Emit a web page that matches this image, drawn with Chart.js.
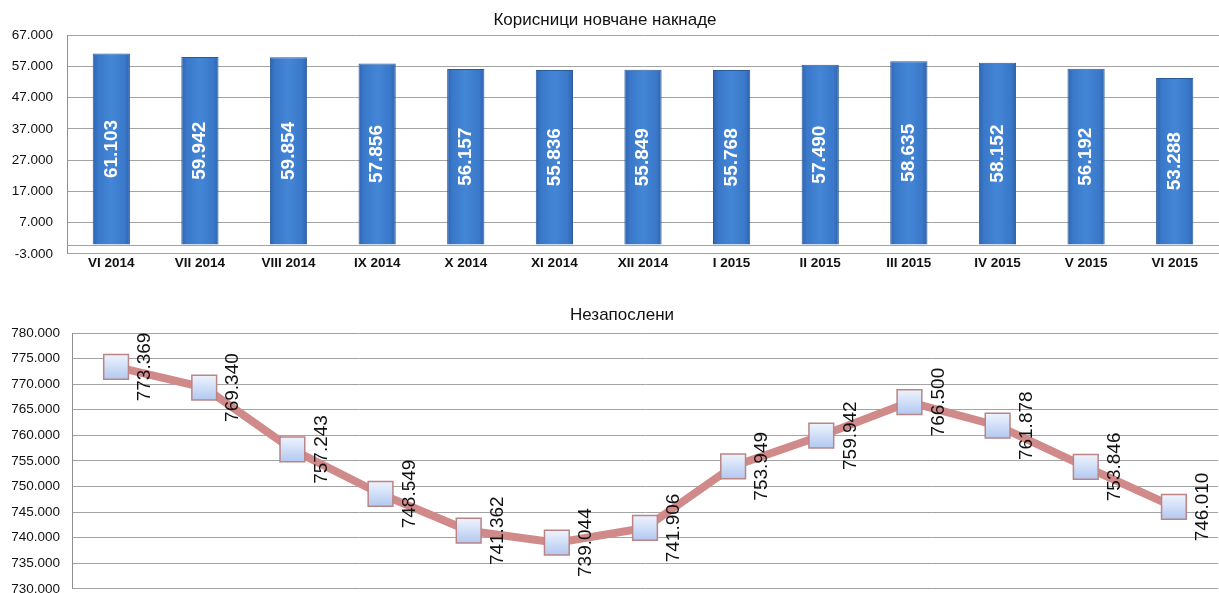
<!DOCTYPE html>
<html>
<head>
<meta charset="utf-8">
<title>Корисници новчане накнаде / Незапослени</title>
<script src="https://cdn.jsdelivr.net/npm/chart.js@4.4.1/dist/chart.umd.min.js"></script>
<style>
    body { margin: 0; background: #fff; width: 1219px; height: 593px; overflow: hidden; position: relative; }
    canvas { position: absolute; left: 0; }
    #benefits-chart { top: 0; }
    #unemployed-chart { top: 290px; }
</style>
</head>
<body>
<canvas id="benefits-chart" width="1219" height="276"></canvas>
<canvas id="unemployed-chart" width="1219" height="319"></canvas>
<script>
// Months, June 2014 - June 2015
const months = ['VI 2014', 'VII 2014', 'VIII 2014', 'IX 2014', 'X 2014', 'XI 2014', 'XII 2014',
    'I 2015', 'II 2015', 'III 2015', 'IV 2015', 'V 2015', 'VI 2015'];

// Корисници новчане накнаде
const benefitUsers = [61103, 59942, 59854, 57856, 56157, 55836, 55849, 55768, 57490, 58635, 58152, 56192, 53288];

// Незапослени
const unemployed = [773369, 769340, 757243, 748549, 741362, 739044, 741906, 753949, 759942, 766500, 761878, 753846, 746010];

const benefitsTicks = { min: -3000, max: 67000, step: 10000 };
const unemployedTicks = { min: 730000, max: 780000, step: 5000 };

const FONT = '"Liberation Sans", Arial, sans-serif';
const GRID = '#a3a3a3';

// 61103 -> "61.103"
function fmt(v) {
    return String(Math.round(v)).replace(/\B(?=(\d{3})+(?!\d))/g, '.');
}

// Title drawn at a fixed spot, like the original sheet
const panelTitle = {
    id: 'panelTitle',
    afterDraw(chart, args, opts) {
        const ctx = chart.ctx;
        ctx.save();
        ctx.font = '17px ' + FONT;
        ctx.fillStyle = '#111';
        ctx.textAlign = 'center';
        ctx.textBaseline = 'middle';
        ctx.fillText(opts.text, opts.x, opts.y);
        ctx.restore();
    }
};

// Category axis crosses at 0
const zeroLine = {
    id: 'zeroLine',
    beforeDatasetsDraw(chart) {
        const { ctx, chartArea } = chart;
        const y = Math.round(chart.scales.y.getPixelForValue(0)) + 0.5;
        ctx.save();
        ctx.strokeStyle = GRID;
        ctx.lineWidth = 1;
        ctx.beginPath();
        ctx.moveTo(chartArea.left, y);
        ctx.lineTo(chartArea.right, y);
        ctx.stroke();
        ctx.restore();
    }
};

// Rotated value labels
const valueLabels = {
    id: 'valueLabels',
    afterDatasetsDraw(chart, args, opts) {
        const ctx = chart.ctx;
        const meta = chart.getDatasetMeta(0);
        const values = chart.data.datasets[0].data;
        ctx.save();
        ctx.font = opts.font;
        ctx.fillStyle = opts.color;
        ctx.textAlign = 'center';
        ctx.textBaseline = 'middle';
        meta.data.forEach((el, i) => {
            let x, y;
            if (opts.inside) {
                x = el.x;
                y = (el.y + el.base) / 2;
            } else {
                x = el.x + opts.dx;
                y = el.y;
            }
            ctx.save();
            ctx.translate(x, y);
            ctx.rotate(-Math.PI / 2);
            ctx.fillText(fmt(values[i]), 0, 0);
            ctx.restore();
        });
        ctx.restore();
    }
};

function barFill(context) {
    const chart = context.chart;
    if (context.dataIndex === undefined || !chart.chartArea) return '#3a7ccf';
    const x = chart.scales.x.getPixelForValue(context.dataIndex);
    const g = chart.ctx.createLinearGradient(x - 19, 0, x + 19, 0);
    g.addColorStop(0, '#2d62ac');
    g.addColorStop(0.15, '#3a78c9');
    g.addColorStop(0.5, '#4486d6');
    g.addColorStop(0.85, '#3a78c9');
    g.addColorStop(1, '#2d62ac');
    return g;
}

function markerFill(context) {
    const chart = context.chart;
    if (context.dataIndex === undefined || !chart.chartArea) return '#c9d9f4';
    const y = chart.scales.y.getPixelForValue(unemployed[context.dataIndex]);
    const g = chart.ctx.createLinearGradient(0, y - 12, 0, y + 12);
    g.addColorStop(0, '#edf3fd');
    g.addColorStop(1, '#b3c9f0');
    return g;
}

Chart.defaults.font.family = FONT;
Chart.defaults.color = '#111';

new Chart(document.getElementById('benefits-chart'), {
    type: 'bar',
    data: {
        labels: months,
        datasets: [{
            data: benefitUsers,
            backgroundColor: barFill,
            borderColor: '#2b5a9a',
            borderWidth: 1,
            categoryPercentage: 1,
            barPercentage: 0.42
        }]
    },
    options: {
        responsive: false,
        animation: false,
        layout: { autoPadding: false, padding: { top: 35, right: 0, bottom: 0, left: 0 } },
        plugins: {
            legend: { display: false },
            tooltip: { enabled: false },
            panelTitle: { text: 'Корисници новчане накнаде', x: 605, y: 20 },
            valueLabels: { font: 'bold 19px ' + FONT, color: '#fff', inside: true }
        },
        scales: {
            x: {
                grid: { display: false, drawTicks: false },
                border: { display: true, color: GRID },
                ticks: { font: { size: 13.5, weight: 'bold' }, color: '#111', padding: 1, maxRotation: 0, autoSkip: false },
                afterFit(scale) { scale.height = 22; }
            },
            y: {
                min: benefitsTicks.min,
                max: benefitsTicks.max,
                grid: { color: GRID, drawTicks: false },
                border: { display: true, color: '#8f8f8f' },
                ticks: {
                    stepSize: benefitsTicks.step,
                    font: { size: 13.5 },
                    color: '#111',
                    padding: 14,
                    callback: v => fmt(v)
                },
                afterFit(scale) { scale.width = 67; }
            }
        }
    },
    plugins: [panelTitle, zeroLine, valueLabels]
});

new Chart(document.getElementById('unemployed-chart'), {
    type: 'line',
    data: {
        labels: months,
        datasets: [{
            data: unemployed,
            borderColor: '#d18a8a',
            borderWidth: 8,
            tension: 0,
            pointStyle: 'rect',
            pointRadius: 17.5,
            pointBackgroundColor: markerFill,
            pointBorderColor: '#bb8585',
            pointBorderWidth: 1.5
        }]
    },
    options: {
        responsive: false,
        animation: false,
        layout: { autoPadding: false, padding: { top: 43, right: 1, bottom: 0, left: 0 } },
        plugins: {
            legend: { display: false },
            tooltip: { enabled: false },
            panelTitle: { text: 'Незапослени', x: 622, y: 25 },
            valueLabels: { font: '19px ' + FONT, color: '#111', inside: false, dx: 29 }
        },
        scales: {
            x: {
                offset: true,
                grid: { display: false, drawTicks: false },
                border: { display: false },
                ticks: { display: false },
                afterFit(scale) { scale.height = 0; }
            },
            y: {
                min: unemployedTicks.min,
                max: unemployedTicks.max,
                grid: { color: GRID, drawTicks: false },
                border: { display: true, color: '#8f8f8f' },
                ticks: {
                    stepSize: unemployedTicks.step,
                    font: { size: 13.5 },
                    color: '#111',
                    padding: 12,
                    callback: v => fmt(v)
                },
                afterFit(scale) { scale.width = 72; }
            }
        }
    },
    plugins: [panelTitle, valueLabels]
});
</script>
</body>
</html>
